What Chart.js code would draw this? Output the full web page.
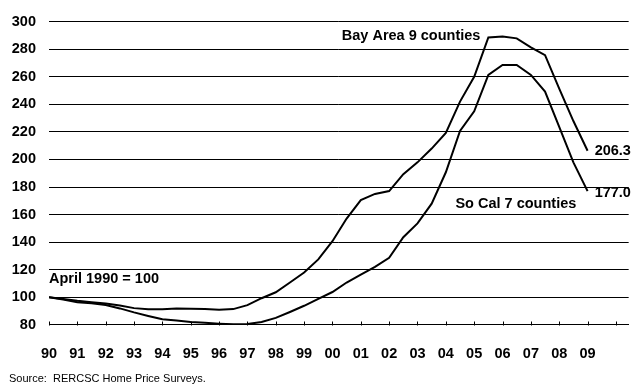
<!DOCTYPE html>
<html>
  <head>
    <meta charset="UTF-8" />
    <title>Bay Area vs So Cal home price index</title>
    <script src="https://cdn.jsdelivr.net/npm/chart.js"></script>
    <style>
      body {
        margin: 0;
        background: #fff;
      }
      canvas {
        display: block;
      }
    </style>
  </head>
  <body>
    <canvas id="priceChart" width="636" height="386"></canvas>

    <script>
      // Survey periods, twice a year (April 1990 = 100).
      const periods = [
        1990, 1990.5, 1991, 1991.5, 1992, 1992.5, 1993, 1993.5, 1994, 1994.5,
        1995, 1995.5, 1996, 1996.5, 1997, 1997.5, 1998, 1998.5, 1999, 1999.5,
        2000, 2000.5, 2001, 2001.5, 2002, 2002.5, 2003, 2003.5, 2004, 2004.5,
        2005, 2005.5, 2006, 2006.5, 2007, 2007.5, 2008, 2008.5, 2009
      ];

      const bayArea = [
        100, 98.8, 97.4, 96.4, 95.5, 94, 92.1, 91.2, 91.2, 91.9,
        91.7, 91.4, 91, 91.4, 94.3, 99.3, 103.6, 110.7, 117.9, 127.5,
        140.7, 157.1, 170.5, 175, 177.1, 189.3, 197.9, 207.9, 219.3, 242,
        260, 288.6, 289.3, 287.9, 281.4, 275.7, 251.4, 227.9, 206.3
      ];

      const soCal = [
        100, 98.3, 96.4, 95.7, 94.3, 91.9, 89, 86.4, 84, 83.1,
        82.1, 81.4, 80.8, 80.4, 80.6, 82, 85, 89.3, 93.8, 98.8,
        103.8, 110.7, 116.4, 122, 128.6, 143.6, 153.6, 167.9, 190.7, 220.7,
        235, 261.4, 268.6, 268.6, 261.4, 249.3, 223.6, 197.9, 177.0
      ];

      // Year ticks on the x axis (the 2010 tick has no label).
      const yearTicks = [
        1990, 1991, 1992, 1993, 1994, 1995, 1996, 1997, 1998, 1999,
        2000, 2001, 2002, 2003, 2004, 2005, 2006, 2007, 2008, 2009, 2010
      ];

      // Text placed in data coordinates.
      const notes = [
        { text: "Bay Area 9 counties", x: 2005.22, y: 289.3, align: "right" },
        { text: "206.3", x: 2009.25, y: 206.4, align: "left" },
        { text: "177.0", x: 2009.25, y: 175.8, align: "left" },
        { text: "So Cal 7 counties", x: 2006.47, y: 167.9, align: "center" },
        { text: "April 1990 = 100", x: 1990, y: 112.9, align: "left" }
      ];

      const boldFont = "bold 14.5px 'Liberation Sans', Arial, sans-serif";

      function toPoints(values) {
        return periods.map((p, i) => ({ x: p, y: values[i] }));
      }

      // Short tick marks pointing up from the x axis, plus the note texts.
      const extrasPlugin = {
        id: "extras",
        afterDatasetsDraw(chart) {
          const ctx = chart.ctx;
          const xs = chart.scales.x;
          const ys = chart.scales.y;
          ctx.save();
          ctx.strokeStyle = "#000";
          ctx.lineWidth = 1;
          ctx.beginPath();
          const base = Math.round(ys.getPixelForValue(80)) + 0.5;
          yearTicks.forEach(v => {
            const px = Math.round(xs.getPixelForValue(v)) + 0.5;
            ctx.moveTo(px, base);
            ctx.lineTo(px, base - 4);
          });
          ctx.stroke();

          ctx.font = boldFont;
          ctx.fillStyle = "#000";
          ctx.textBaseline = "middle";
          notes.forEach(n => {
            ctx.textAlign = n.align;
            ctx.fillText(n.text, xs.getPixelForValue(n.x), ys.getPixelForValue(n.y));
          });
          ctx.restore();
        }
      };

      const lineStyle = {
        borderColor: "#000",
        borderWidth: 2,
        pointRadius: 0,
        tension: 0,
        fill: false
      };

      new Chart(document.getElementById("priceChart"), {
        type: "line",
        data: {
          datasets: [
            Object.assign({ label: "Bay Area 9 counties", data: toPoints(bayArea) }, lineStyle),
            Object.assign({ label: "So Cal 7 counties", data: toPoints(soCal) }, lineStyle)
          ]
        },
        options: {
          responsive: false,
          animation: false,
          devicePixelRatio: 1,
          layout: {
            padding: { left: 9, right: 4, top: 17, bottom: 0 }
          },
          plugins: {
            legend: { display: false },
            tooltip: { enabled: false },
            title: {
              display: true,
              position: "bottom",
              align: "start",
              text: "Source:  RERCSC Home Price Surveys.",
              color: "#000",
              font: { family: "'Liberation Sans', Arial, sans-serif", size: 11, weight: "normal" },
              padding: { top: 0, bottom: 0 }
            }
          },
          scales: {
            x: {
              type: "linear",
              min: 1990,
              max: 2010.45,
              afterBuildTicks: scale => {
                scale.ticks = yearTicks.map(v => ({ value: v }));
              },
              afterFit: scale => {
                scale.height = 48;
              },
              ticks: {
                autoSkip: false,
                maxRotation: 0,
                padding: 20,
                color: "#000",
                font: { family: "'Liberation Sans', Arial, sans-serif", size: 14.5, weight: "bold" },
                callback: v => (v === 2010 ? "" : String(v % 100).padStart(2, "0"))
              },
              grid: {
                drawOnChartArea: false,
                drawTicks: false
              },
              border: { display: true, color: "#000", width: 1 }
            },
            y: {
              min: 80,
              max: 300,
              afterFit: scale => {
                scale.width = 40;
              },
              ticks: {
                stepSize: 20,
                padding: 13,
                color: "#000",
                font: { family: "'Liberation Sans', Arial, sans-serif", size: 14.5, weight: "bold" }
              },
              grid: {
                drawTicks: false,
                color: "#000",
                lineWidth: 1
              },
              border: { display: false }
            }
          }
        },
        plugins: [extrasPlugin]
      });
    </script>
  </body>
</html>
